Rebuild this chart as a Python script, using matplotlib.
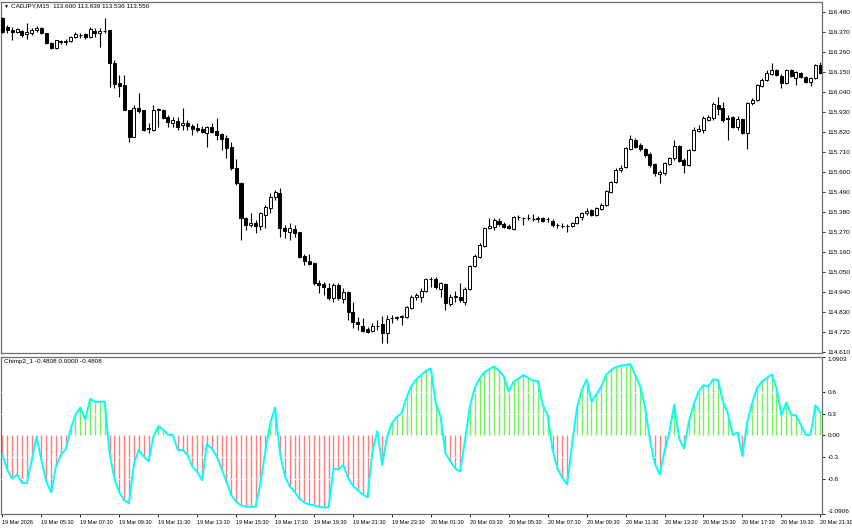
import matplotlib
matplotlib.use("Agg")
from matplotlib import pyplot as plt
import numpy as np

# CADJPY M15 candles, 19 Mar 03:30 -> 20 Mar 21:30
opens = [116.447, 116.397, 116.381, 116.370, 116.375, 116.359, 116.364, 116.381, 116.392, 116.364,
         116.309, 116.282, 116.315, 116.315, 116.318, 116.342, 116.353, 116.359, 116.342, 116.378,
         116.364, 116.378, 116.381, 116.199, 116.089, 116.078, 115.941, 115.792, 115.952, 115.941,
         115.842, 115.831, 115.941, 115.941, 115.902, 115.869, 115.880, 115.858, 115.869, 115.853,
         115.842, 115.836, 115.814, 115.847, 115.825, 115.809, 115.787, 115.737, 115.622, 115.539,
         115.347, 115.308, 115.319, 115.303, 115.363, 115.402, 115.463, 115.484, 115.292, 115.270,
         115.286, 115.270, 115.138, 115.110, 115.100, 114.989, 114.984, 114.962, 114.907, 114.978,
         114.902, 114.940, 114.830, 114.775, 114.753, 114.737, 114.726, 114.753, 114.764, 114.715,
         114.797, 114.794, 114.803, 114.803, 114.852, 114.912, 114.912, 114.945, 115.011, 115.011,
         114.957, 114.984, 114.874, 114.912, 114.912, 114.885, 114.957, 115.083, 115.132, 115.193,
         115.292, 115.297, 115.330, 115.314, 115.303, 115.286, 115.353, 115.347, 115.347, 115.341,
         115.341, 115.347, 115.341, 115.330, 115.308, 115.303, 115.303, 115.303, 115.319, 115.353,
         115.374, 115.391, 115.363, 115.396, 115.418, 115.490, 115.545, 115.611, 115.628, 115.727,
         115.776, 115.748, 115.727, 115.699, 115.644, 115.589, 115.595, 115.644, 115.677, 115.743,
         115.666, 115.639, 115.721, 115.826, 115.831, 115.886, 115.897, 115.968, 115.952, 115.897,
         115.902, 115.847, 115.891, 115.814, 115.980, 115.996, 116.073, 116.106, 116.139, 116.161,
         116.128, 116.089, 116.161, 116.117, 116.144, 116.122, 116.095, 116.117, 116.188]
highs = [116.452, 116.408, 116.397, 116.392, 116.381, 116.419, 116.392, 116.403, 116.397, 116.364,
         116.315, 116.326, 116.326, 116.331, 116.348, 116.370, 116.364, 116.364, 116.397, 116.392,
         116.392, 116.447, 116.381, 116.216, 116.133, 116.133, 115.941, 115.968, 116.034, 115.941,
         115.869, 115.968, 115.952, 115.947, 115.913, 115.902, 115.902, 115.952, 115.886, 115.864,
         115.869, 115.853, 115.853, 115.869, 115.897, 115.814, 115.803, 115.765, 115.671, 115.545,
         115.353, 115.374, 115.336, 115.380, 115.418, 115.484, 115.501, 115.512, 115.308, 115.319,
         115.308, 115.270, 115.149, 115.149, 115.105, 115.006, 114.995, 114.989, 114.989, 114.989,
         114.962, 114.945, 114.885, 114.803, 114.797, 114.748, 114.770, 114.786, 114.808, 114.814,
         114.814, 114.808, 114.814, 114.863, 114.923, 114.934, 114.962, 115.017, 115.022, 115.022,
         114.995, 114.989, 114.929, 114.945, 114.989, 114.967, 115.089, 115.149, 115.209, 115.297,
         115.347, 115.347, 115.347, 115.325, 115.314, 115.358, 115.363, 115.353, 115.369, 115.369,
         115.358, 115.353, 115.353, 115.341, 115.319, 115.319, 115.314, 115.325, 115.358, 115.380,
         115.402, 115.396, 115.407, 115.429, 115.501, 115.551, 115.622, 115.639, 115.737, 115.803,
         115.787, 115.759, 115.732, 115.710, 115.650, 115.611, 115.655, 115.683, 115.776, 115.748,
         115.677, 115.727, 115.847, 115.858, 115.908, 115.913, 115.985, 116.012, 115.985, 115.913,
         115.908, 115.908, 115.897, 115.985, 116.007, 116.084, 116.117, 116.161, 116.199, 116.166,
         116.139, 116.166, 116.166, 116.155, 116.150, 116.128, 116.122, 116.194, 116.205]
lows = [116.364, 116.364, 116.326, 116.364, 116.342, 116.331, 116.353, 116.370, 116.359, 116.304,
        116.276, 116.276, 116.304, 116.298, 116.315, 116.337, 116.337, 116.331, 116.337, 116.342,
        116.287, 116.364, 116.067, 116.062, 116.012, 115.941, 115.765, 115.792, 115.924, 115.826,
        115.814, 115.826, 115.847, 115.891, 115.847, 115.847, 115.831, 115.831, 115.831, 115.803,
        115.820, 115.814, 115.737, 115.814, 115.776, 115.721, 115.677, 115.611, 115.528, 115.226,
        115.281, 115.297, 115.264, 115.281, 115.292, 115.374, 115.446, 115.242, 115.237, 115.226,
        115.242, 115.127, 115.089, 115.089, 114.978, 114.934, 114.923, 114.896, 114.885, 114.896,
        114.880, 114.786, 114.742, 114.731, 114.720, 114.715, 114.720, 114.731, 114.660, 114.660,
        114.770, 114.786, 114.759, 114.797, 114.847, 114.896, 114.885, 114.940, 114.967, 114.957,
        114.912, 114.841, 114.863, 114.885, 114.885, 114.869, 114.951, 115.078, 115.127, 115.187,
        115.286, 115.281, 115.303, 115.292, 115.286, 115.281, 115.336, 115.308, 115.336, 115.330,
        115.325, 115.325, 115.325, 115.297, 115.292, 115.292, 115.270, 115.297, 115.314, 115.336,
        115.363, 115.358, 115.358, 115.391, 115.413, 115.484, 115.539, 115.600, 115.622, 115.721,
        115.732, 115.716, 115.683, 115.628, 115.578, 115.539, 115.584, 115.639, 115.666, 115.655,
        115.595, 115.633, 115.716, 115.820, 115.814, 115.880, 115.886, 115.913, 115.875, 115.776,
        115.842, 115.831, 115.809, 115.727, 115.968, 115.991, 116.067, 116.100, 116.133, 116.128,
        116.062, 116.084, 116.122, 116.078, 116.117, 116.089, 116.073, 116.111, 116.139]
closes = [116.370, 116.381, 116.370, 116.386, 116.353, 116.370, 116.381, 116.392, 116.364, 116.309,
          116.282, 116.326, 116.318, 116.318, 116.342, 116.359, 116.351, 116.342, 116.386, 116.364,
          116.378, 116.375, 116.199, 116.084, 116.073, 115.941, 115.792, 115.952, 115.936, 115.831,
          115.839, 115.941, 115.947, 115.897, 115.875, 115.886, 115.847, 115.872, 115.853, 115.836,
          115.831, 115.820, 115.847, 115.820, 115.803, 115.782, 115.732, 115.622, 115.539, 115.347,
          115.308, 115.319, 115.303, 115.374, 115.407, 115.463, 115.490, 115.292, 115.275, 115.292,
          115.264, 115.132, 115.110, 115.094, 114.989, 114.978, 114.967, 114.907, 114.978, 114.907,
          114.940, 114.830, 114.775, 114.764, 114.726, 114.720, 114.753, 114.750, 114.715, 114.792,
          114.794, 114.803, 114.805, 114.858, 114.912, 114.923, 114.945, 115.011, 115.009, 114.967,
          114.989, 114.880, 114.912, 114.915, 114.896, 114.957, 115.083, 115.138, 115.198, 115.292,
          115.303, 115.336, 115.314, 115.297, 115.292, 115.353, 115.350, 115.344, 115.344, 115.339,
          115.347, 115.330, 115.339, 115.308, 115.306, 115.300, 115.300, 115.319, 115.353, 115.374,
          115.385, 115.363, 115.402, 115.418, 115.496, 115.545, 115.611, 115.622, 115.732, 115.782,
          115.737, 115.727, 115.694, 115.639, 115.595, 115.600, 115.650, 115.677, 115.743, 115.661,
          115.639, 115.721, 115.831, 115.836, 115.897, 115.902, 115.974, 115.947, 115.886, 115.894,
          115.847, 115.891, 115.814, 115.980, 115.996, 116.078, 116.106, 116.144, 116.161, 116.133,
          116.089, 116.161, 116.128, 116.150, 116.122, 116.095, 116.117, 116.188, 116.144]

# Chimp2 oscillator
chimp = [-0.27, -0.48, -0.60, -0.54, -0.66, -0.66, -0.35, -0.02, -0.34, -0.64,
         -0.79, -0.43, -0.27, -0.19, 0.09, 0.29, 0.39, 0.22, 0.51, 0.47,
         0.47, 0.47, -0.25, -0.60, -0.79, -0.90, -0.94, -0.39, -0.20, -0.29,
         -0.36, -0.02, 0.13, 0.08, 0.01, 0.01, -0.20, -0.20, -0.27, -0.43,
         -0.51, -0.62, -0.12, -0.18, -0.29, -0.46, -0.64, -0.83, -0.92, -0.97,
         -0.99, -0.99, -0.99, -0.66, -0.22, 0.17, 0.39, -0.25, -0.56, -0.71,
         -0.78, -0.88, -0.93, -0.96, -0.97, -0.99, -1.00, -1.00, -0.46, -0.47,
         -0.41, -0.59, -0.70, -0.76, -0.82, -0.86, -0.22, 0.06, -0.41, -0.02,
         0.17, 0.26, 0.31, 0.53, 0.69, 0.78, 0.84, 0.90, 0.93, 0.45,
         0.26, -0.25, -0.36, -0.46, -0.50, -0.08, 0.40, 0.66, 0.79, 0.88,
         0.92, 0.96, 0.90, 0.82, 0.61, 0.75, 0.79, 0.84, 0.80, 0.76,
         0.76, 0.42, 0.28, -0.20, -0.46, -0.59, -0.68, -0.13, 0.38, 0.63,
         0.78, 0.47, 0.57, 0.68, 0.84, 0.91, 0.95, 0.97, 0.98, 0.99,
         0.84, 0.68, 0.40, -0.06, -0.39, -0.54, -0.22, 0.05, 0.43, -0.04,
         -0.18, 0.19, 0.43, 0.61, 0.70, 0.68, 0.78, 0.77, 0.47, 0.31,
         0.01, 0.04, -0.29, 0.19, 0.45, 0.66, 0.75, 0.80, 0.85, 0.66,
         0.28, 0.46, 0.29, 0.28, 0.15, 0.01, 0.01, 0.42, 0.32]

price_ticks = [116.480, 116.370, 116.260, 116.150, 116.040, 115.930, 115.820, 115.710, 115.600,
               115.490, 115.380, 115.270, 115.160, 115.050, 114.940, 114.830, 114.720, 114.610]
chimp_ticks = [1.0903, 0.6, 0.3, 0.0, -0.3, -0.6, -1.0906]
chimp_labels = ["1.0903", "0.6", "0.3", "0.00", "-0.3", "-0.6", "-1.0906"]
time_labels = ["19 Mar 2026", "19 Mar 05:30", "19 Mar 07:30", "19 Mar 09:30", "19 Mar 11:30",
               "19 Mar 13:30", "19 Mar 15:30", "19 Mar 17:30", "19 Mar 19:30", "19 Mar 21:30",
               "19 Mar 23:30", "20 Mar 01:30", "20 Mar 03:30", "20 Mar 05:30", "20 Mar 07:30",
               "20 Mar 09:30", "20 Mar 11:30", "20 Mar 13:30", "20 Mar 15:30", "20 Mar 17:30",
               "20 Mar 19:30", "20 Mar 21:30"]

plt.rcParams['font.family'] = ['Liberation Sans', 'DejaVu Sans']
fs = 4.6
frame = '#6e6e6e'

o = np.array(opens); h = np.array(highs); l = np.array(lows); c = np.array(closes)
v = np.array(chimp)
x = np.arange(len(o))

fig = plt.figure(figsize=(8.52, 5.28), dpi=100)
ax = fig.add_axes([1/852, 1 - 353/528, 821/852, 351/528])
ax2 = fig.add_axes([1/852, 1 - 514/528, 821/852, 157/528])

# candles
ax.vlines(x, l, h, color='k', lw=0.8, zorder=2)
up = c >= o
body = np.abs(c - o)
body = np.where(body < 0.0008, 0.0008, body)
ax.bar(x, body, bottom=np.minimum(o, c), width=0.62,
       color=np.where(up, 'white', 'black'), edgecolor='k', lw=0.7, zorder=3)

ax.set_xlim(-0.3, 168.35)
ax.set_ylim(114.604, 116.535)
ax.yaxis.tick_right()
ax.set_yticks(price_ticks)
ax.set_yticklabels(["%.3f" % t for t in price_ticks])
ax.set_xticks([])
ax.tick_params(axis='y', length=2.5, width=0.6, color='k', labelsize=fs, pad=1.5)
for s in ax.spines.values():
    s.set_color(frame)
    s.set_linewidth(0.9)
ax.text(0.004, 0.988, "\u25bc", transform=ax.transAxes, fontsize=3.6, va='center', ha='left')
ax.text(0.012, 0.988, "CADJPY,M15  113.600 113.639 113.536 113.550", transform=ax.transAxes,
        fontsize=fs, va='center', ha='left')

# oscillator
cols = np.where(v >= 0, '#74f25a', '#ff7f7f')
ax2.vlines(x, 0, v, colors=cols, lw=1.0, zorder=2)
for lev in [0.6, 0.3, -0.3, -0.6]:
    ax2.axhline(lev, color='white', lw=0.8, ls=(0, (1.5, 1.5)), zorder=3)
ax2.plot(x, v, color='#00ffff', lw=1.4, zorder=4)

ax2.set_xlim(-0.3, 168.35)
ax2.set_ylim(-1.0906, 1.0903)
ax2.yaxis.tick_right()
ax2.set_yticks(chimp_ticks)
ax2.set_yticklabels(chimp_labels)
ax2.tick_params(axis='y', length=2.5, width=0.6, color='k', labelsize=fs, pad=1.5)
yl = ax2.get_yticklabels()
yl[0].set_va('top')
yl[-1].set_va('bottom')
ax2.set_xticks(np.arange(0, 169, 8))
ax2.set_xticklabels(time_labels, ha='left')
ax2.tick_params(axis='x', length=2.5, width=0.6, color='k', labelsize=4.0, pad=1.5)
for s in ax2.spines.values():
    s.set_color(frame)
    s.set_linewidth(0.9)
ax2.text(0.004, 0.972, "Chimp2_1 -0.4808 0.0000 -0.4808", transform=ax2.transAxes,
         fontsize=fs, va='center', ha='left')

fig.savefig("out.png", dpi=100)
